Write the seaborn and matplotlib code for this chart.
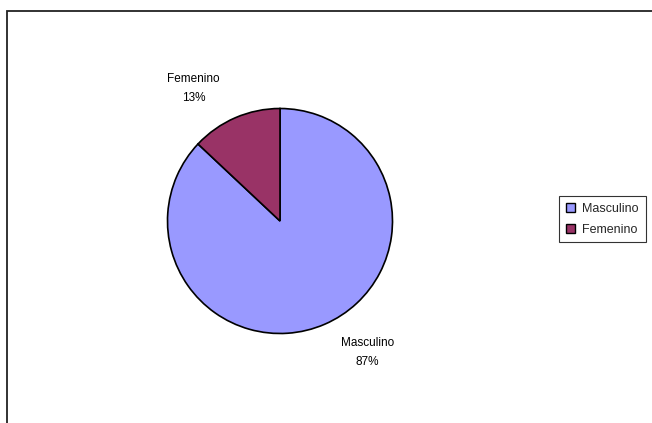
import matplotlib
matplotlib.use("Agg")
import matplotlib.pyplot as plt
import matplotlib.patches as mpatches
import numpy as np
import seaborn as sns

categories = ["Masculino", "Femenino"]
values = [87, 13]
colors = ["#9999FF", "#993366"]

sns.set_theme(style="white")
plt.rcParams["font.family"] = ["Liberation Sans", "DejaVu Sans"]

W, H = 652, 423
fig = plt.figure(figsize=(W / 100, H / 100), dpi=100)
fig.patch.set_facecolor("white")

# outer chart-area frame (runs past the right and bottom edges)
fig.add_artist(mpatches.Rectangle((6.5 / W, -0.05), 1.2, 1 - 11 / H + 0.05,
                                  transform=fig.transFigure, fill=False,
                                  edgecolor="#222222", linewidth=1.3))

cx, cy, r = 280, 221, 112.5
ax = fig.add_axes([(cx - r) / W, (H - cy - r) / H, 2 * r / W, 2 * r / H])

wedges, _ = ax.pie(values, colors=colors, startangle=90, counterclock=False,
                   radius=1, wedgeprops=dict(edgecolor="black", linewidth=1.2))
ax.set_xlim(-1, 1)
ax.set_ylim(-1, 1)
ax.set_aspect("equal")
ax.axis("off")

# data labels outside the pie
total = sum(values)
label_pos = {"Masculino": (0.78, -1.17), "Femenino": (-0.77, 1.18)}
for cat, val in zip(categories, values):
    x, y = label_pos[cat]
    ax.text(x, y, f"{cat}\n{round(100 * val / total)}%", ha="center", va="center",
            fontsize=8.5, linespacing=1.8, color="black")

handles = [mpatches.Patch(facecolor=c, edgecolor="black", linewidth=1.0) for c in colors]
leg = fig.legend(handles, categories, loc="upper left",
                 bbox_to_anchor=(559 / W, 1 - 196 / H), frameon=True,
                 fancybox=False, edgecolor="black", fontsize=9,
                 handlelength=0.7, handleheight=0.7, handletextpad=0.6,
                 borderpad=0.55, labelspacing=0.7, borderaxespad=0)
leg.get_frame().set_linewidth(0.8)

fig.savefig("out.png", dpi=100, facecolor="white")
